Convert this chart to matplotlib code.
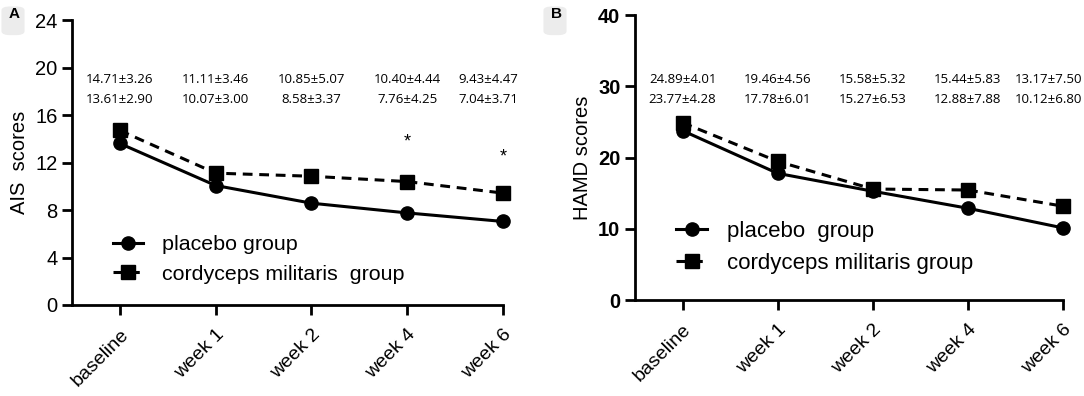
import matplotlib.pyplot as plt
from matplotlib.patches import FancyBboxPatch
import numpy as np

plt.rcParams['font.family'] = ['Liberation Sans', 'DejaVu Sans']

timepoints = ['baseline', 'week 1', 'week 2', 'week 4', 'week 6']

# panel A (AIS)
ais_solid = [13.61, 10.07, 8.58, 7.76, 7.04]
ais_dashed = [14.71, 11.11, 10.85, 10.40, 9.43]
ais_top_txt = ['14.71±3.26', '11.11±3.46', '10.85±5.07', '10.40±4.44', '9.43±4.47']
ais_bot_txt = ['13.61±2.90', '10.07±3.00', '8.58±3.37', '7.76±4.25', '7.04±3.71']
ais_star_idx = [3, 4]
ais_star_y = [13.7, 12.5]

# panel B (HAMD)
hamd_solid = [23.77, 17.78, 15.27, 12.88, 10.12]
hamd_dashed = [24.89, 19.46, 15.58, 15.44, 13.17]
hamd_top_txt = ['24.89±4.01', '19.46±4.56', '15.58±5.32', '15.44±5.83', '13.17±7.50']
hamd_bot_txt = ['23.77±4.28', '17.78±6.01', '15.27±6.53', '12.88±7.88', '10.12±6.80']

fig = plt.figure(figsize=(10.84, 3.96), dpi=100)
axA = fig.add_axes([0.0664, 0.2298, 0.3976, 0.7192])
axB = fig.add_axes([0.5858, 0.2424, 0.3948, 0.7196])

x = np.arange(len(timepoints))
# the last pair of numbers sits a bit left of its tick so it stays inside
txt_x = [0, 1, 2, 3, 3.85]


def draw(ax, solid, dashed, top_txt, bot_txt, ymax, step, ylabel, leg1, leg2,
         row1, row2, bold_ticks, leg_anchor, leg_size):
    ax.plot(x, solid, '-', color='black', lw=2.2, marker='o', ms=9.5,
            clip_on=False, label=leg1)
    ax.plot(x, dashed, '--', color='black', lw=2.2, marker='s', ms=9.5,
            dashes=(3.2, 2.2), clip_on=False, label=leg2)
    ax.set_xlim(-0.5, 4)
    ax.set_ylim(0, ymax)
    ax.set_yticks(np.arange(0, ymax + 1, step))
    ax.set_xticks(x)
    ax.set_xticklabels(timepoints, rotation=45, ha='right', rotation_mode='anchor',
                       fontsize=14)
    for s in ['top', 'right']:
        ax.spines[s].set_visible(False)
    for s in ['left', 'bottom']:
        ax.spines[s].set_linewidth(2)
    ax.tick_params(width=2, length=7, labelsize=14.5)
    ax.tick_params(axis='x', pad=8, labelsize=14)
    if bold_ticks:
        for t in ax.get_yticklabels():
            t.set_fontweight('bold')
    ax.set_ylabel(ylabel, fontsize=14.5, labelpad=4)
    for i in range(len(x)):
        ax.text(txt_x[i], row1, top_txt[i], ha='center', va='center', fontsize=9.5,
                family=['Open Sans', 'DejaVu Sans'])
        ax.text(txt_x[i], row2, bot_txt[i], ha='center', va='center', fontsize=9.5,
                family=['Open Sans', 'DejaVu Sans'])
    ax.legend(loc='upper left', bbox_to_anchor=leg_anchor, frameon=False,
              fontsize=leg_size, handlelength=1.4, handletextpad=0.9,
              labelspacing=0.5, borderaxespad=0)


draw(axA, ais_solid, ais_dashed, ais_top_txt, ais_bot_txt, 24, 4, 'AIS  scores',
     'placebo group', 'cordyceps militaris  group', 19.0, 17.35, False,
     (0.075, 0.275), 15.4)
for i, yv in zip(ais_star_idx, ais_star_y):
    axA.text(x[i], yv, '*', ha='center', va='center', fontsize=13)

draw(axB, hamd_solid, hamd_dashed, hamd_top_txt, hamd_bot_txt, 40, 10, 'HAMD scores',
     'placebo  group', 'cordyceps militaris group', 30.9, 28.2, True,
     (0.075, 0.31), 16)

# faint grey tabs behind the panel letters
for fx in [0.004, 0.504]:
    fig.patches.append(FancyBboxPatch((fx, 0.915), 0.016, 0.065,
                                      boxstyle='round,pad=0.002,rounding_size=0.008',
                                      transform=fig.transFigure, color='#ececec',
                                      zorder=0))
fig.text(0.008, 0.955, 'A', fontsize=11, fontweight='bold')
fig.text(0.508, 0.955, 'B', fontsize=11, fontweight='bold')

fig.savefig('out.png', dpi=100)
